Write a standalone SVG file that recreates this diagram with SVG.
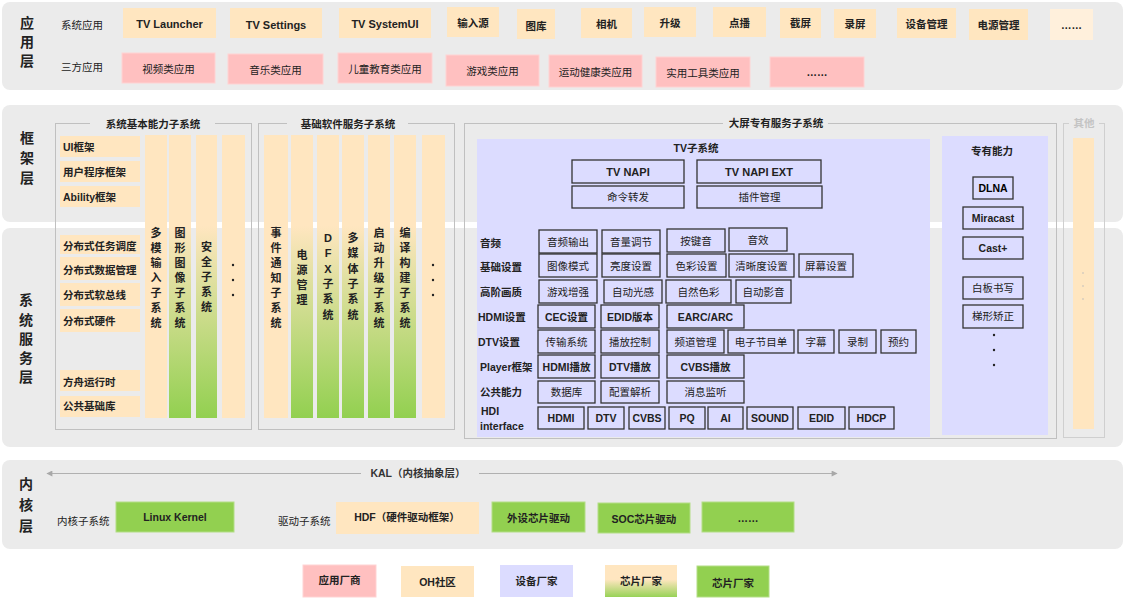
<svg xmlns="http://www.w3.org/2000/svg" width="1125" height="603" viewBox="0 0 1125 603">
<defs>
<linearGradient id="gcol" x1="0" y1="0" x2="0" y2="1">
<stop offset="0" stop-color="#FFE6C0"/><stop offset="0.32" stop-color="#FFE6C0"/><stop offset="1" stop-color="#92D050"/>
</linearGradient>
<linearGradient id="gleg" x1="0" y1="0" x2="0" y2="1">
<stop offset="0" stop-color="#FFE6C0"/><stop offset="0.45" stop-color="#FFE6C0"/><stop offset="1" stop-color="#98D257"/>
</linearGradient>
<marker id="arr" viewBox="0 0 10 10" refX="9" refY="5" markerUnits="userSpaceOnUse" markerWidth="7" markerHeight="6" orient="auto-start-reverse">
<path d="M0,0 L10,5 L0,10 z" fill="#A8A8A8"/>
</marker>
</defs>
<style>
text{font-family:"Liberation Sans","Noto Sans CJK SC",sans-serif;fill:#222;font-size:10.5px;}
.c{text-anchor:middle;dominant-baseline:central;}
.l{dominant-baseline:central;}
.b{font-weight:bold;}
.s11{font-size:11px;}
.s14{font-size:14px;}
.layer{fill:#EBEBEB;}
.pe{fill:#FFE6C0;}
.pe2{fill:#FFF0DC;}
.pk{fill:#FFC0C0;stroke:#FFD3D3;stroke-width:1;}
.gr{fill:#92D050;stroke:#B3DE86;stroke-width:1;}
.gc{fill:url(#gcol);}
.tb{fill:none;stroke:#333;stroke-width:1.3;}
.sb{fill:none;stroke:#C0C0C0;stroke-width:1;}
.lav{fill:#DCDCFF;}
.gap{fill:#EBEBEB;}
.dot{fill:#222;}
.ldot{fill:#BBBBBB;}
.conn{fill:none;stroke:#B0B0B0;stroke-width:1;}
</style>

<!-- Layers -->
<g id="layers">
<rect class="layer" x="2" y="2" width="1121" height="88" rx="8"/>
<rect class="layer" x="2" y="105" width="1121" height="117" rx="8"/>
<rect class="layer" x="2" y="228" width="1121" height="219" rx="8"/>
<rect class="layer" x="2" y="460" width="1121" height="89" rx="8"/>
</g>

<!-- Layer labels -->
<g id="layer-labels">
<text class="c b s14" x="27" y="23">应<tspan x="27" y="42">用</tspan><tspan x="27" y="61">层</tspan></text>
<text class="c b s14" x="27" y="138">框<tspan x="27" y="158">架</tspan><tspan x="27" y="178">层</tspan></text>
<text class="c b s14" x="26" y="300">系<tspan x="26" y="320">统</tspan><tspan x="26" y="339">服</tspan><tspan x="26" y="358">务</tspan><tspan x="26" y="377">层</tspan></text>
<text class="c b s14" x="26" y="484">内<tspan x="26" y="505">核</tspan><tspan x="26" y="526">层</tspan></text>
</g>

<!-- App layer -->
<g id="app-layer">
<text class="l" x="61" y="25">系统应用</text>
<text class="l" x="61" y="67">三方应用</text>
<g id="app-tv-launcher"><rect class="pe" x="123" y="8" width="93" height="30"/><text class="c b s11" x="169.5" y="24">TV Launcher</text></g>
<g id="app-tv-settings"><rect class="pe" x="230" y="8" width="92" height="30"/><text class="c b s11" x="276" y="25">TV Settings</text></g>
<g id="app-tv-systemui"><rect class="pe" x="339" y="8" width="92" height="30"/><text class="c b s11" x="385" y="24">TV SystemUI</text></g>
<g id="app-input"><rect class="pe" x="447" y="7" width="52" height="30"/><text class="c b" x="473" y="23">输入源</text></g>
<g id="app-gallery"><rect class="pe" x="517" y="9" width="38" height="30"/><text class="c b" x="536" y="26">图库</text></g>
<g id="app-camera"><rect class="pe" x="581" y="8" width="51" height="30"/><text class="c b" x="606.5" y="24">相机</text></g>
<g id="app-upgrade"><rect class="pe" x="644" y="7" width="52" height="30"/><text class="c b" x="670" y="23">升级</text></g>
<g id="app-vod"><rect class="pe" x="713" y="7" width="53" height="30"/><text class="c b" x="739.5" y="23">点播</text></g>
<g id="app-screenshot"><rect class="pe" x="780" y="8" width="41" height="30"/><text class="c b" x="800.5" y="23">截屏</text></g>
<g id="app-record"><rect class="pe" x="834" y="9" width="42" height="29"/><text class="c b" x="855" y="24">录屏</text></g>
<g id="app-device"><rect class="pe" x="897" y="8" width="59" height="30"/><text class="c b" x="926.5" y="24">设备管理</text></g>
<g id="app-power"><rect class="pe" x="969" y="9" width="59" height="31"/><text class="c b" x="998.5" y="25">电源管理</text></g>
<g id="app-more1"><rect class="pe2" x="1050" y="9" width="43" height="31"/><text class="c b" x="1071.5" y="25">……</text></g>

<g id="app-video"><rect class="pk" x="122" y="53" width="93" height="30"/><text class="c" x="168.5" y="69">视频类应用</text></g>
<g id="app-music"><rect class="pk" x="228" y="54" width="95" height="30"/><text class="c" x="275.5" y="70">音乐类应用</text></g>
<g id="app-edu"><rect class="pk" x="338" y="53" width="94" height="30"/><text class="c" x="385" y="69">儿童教育类应用</text></g>
<g id="app-game"><rect class="pk" x="446" y="55" width="93" height="31"/><text class="c" x="492.5" y="71">游戏类应用</text></g>
<g id="app-sport"><rect class="pk" x="549" y="55" width="93" height="32"/><text class="c" x="595.5" y="72">运动健康类应用</text></g>
<g id="app-tool"><rect class="pk" x="656" y="57" width="94" height="30"/><text class="c" x="703" y="73">实用工具类应用</text></g>
<g id="app-more2"><rect class="pk" x="770" y="57" width="94" height="30"/><text class="c b" x="817" y="72">……</text></g>
</g>

<!-- Subsystem borders -->
<g id="subsystem-frames">
<rect class="sb" x="55.5" y="123.5" width="196" height="306"/>
<rect class="gap" x="90" y="118" width="125" height="12"/>
<text class="c b" x="153" y="124">系统基本能力子系统</text>
<rect class="sb" x="258.5" y="123.5" width="196" height="306"/>
<rect class="gap" x="287" y="118" width="121" height="12"/>
<text class="c b" x="348" y="124">基础软件服务子系统</text>
<rect class="sb" x="464.5" y="123.5" width="592" height="315"/>
<rect class="gap" x="723" y="118" width="105" height="12"/>
<text class="c b" x="776" y="123">大屏专有服务子系统</text>
<rect class="sb" x="1063.5" y="123.5" width="41" height="314" style="stroke:#CFCFCF"/>
<rect class="gap" x="1069" y="118" width="30" height="12"/>
<text class="c b" x="1084" y="123" style="fill:#C4C4C4">其他</text>
</g>

<!-- 系统基本能力子系统 -->
<g id="sys-basic">
<g id="ui-framework"><rect class="pe" x="60" y="136" width="80" height="21"/><text class="l b" x="63" y="147">UI框架</text></g>
<g id="user-app-framework"><rect class="pe" x="60" y="161" width="80" height="21"/><text class="l b" x="63" y="172">用户程序框架</text></g>
<g id="ability-framework"><rect class="pe" x="60" y="186" width="80" height="21"/><text class="l b" x="63" y="197">Ability框架</text></g>
<g id="dist-sched"><rect class="pe" x="60" y="235" width="80" height="19"/><text class="l b" x="63" y="246">分布式任务调度</text></g>
<g id="dist-data"><rect class="pe" x="60" y="257" width="80" height="23"/><text class="l b" x="63" y="270">分布式数据管理</text></g>
<g id="dist-bus"><rect class="pe" x="60" y="283" width="80" height="23"/><text class="l b" x="63" y="295">分布式软总线</text></g>
<g id="dist-hw"><rect class="pe" x="60" y="309" width="80" height="23"/><text class="l b" x="63" y="321">分布式硬件</text></g>
<g id="ark-runtime"><rect class="pe" x="60" y="370" width="80" height="21"/><text class="l b" x="63" y="382">方舟运行时</text></g>
<g id="common-lib"><rect class="pe" x="60" y="396" width="80" height="21"/><text class="l b" x="63" y="406">公共基础库</text></g>

<g id="multimodal"><rect class="pe" x="145" y="135" width="22" height="283"/>
<text class="c b s11" x="156" y="233">多<tspan x="156" y="248">模</tspan><tspan x="156" y="263">输</tspan><tspan x="156" y="278">入</tspan><tspan x="156" y="293">子</tspan><tspan x="156" y="308">系</tspan><tspan x="156" y="323">统</tspan></text></g>
<g id="graphics"><rect class="gc" x="169" y="135" width="22" height="283"/>
<text class="c b s11" x="180" y="233">图<tspan x="180" y="248">形</tspan><tspan x="180" y="263">图</tspan><tspan x="180" y="278">像</tspan><tspan x="180" y="293">子</tspan><tspan x="180" y="308">系</tspan><tspan x="180" y="323">统</tspan></text></g>
<g id="security"><rect class="gc" x="196" y="135" width="21" height="283"/>
<text class="c b s11" x="206.5" y="247">安<tspan x="206.5" y="262">全</tspan><tspan x="206.5" y="277">子</tspan><tspan x="206.5" y="292">系</tspan><tspan x="206.5" y="307">统</tspan></text></g>
<g id="sys-more"><rect class="pe" x="222" y="135" width="23" height="283"/>
<circle class="dot" cx="233" cy="265" r="1.2"/><circle class="dot" cx="233" cy="280" r="1.2"/><circle class="dot" cx="233" cy="295" r="1.2"/></g>
</g>

<!-- 基础软件服务子系统 -->
<g id="base-software">
<g id="event-notify"><rect class="pe" x="264" y="135" width="24" height="283"/>
<text class="c b s11" x="276" y="233">事<tspan x="276" y="248">件</tspan><tspan x="276" y="263">通</tspan><tspan x="276" y="278">知</tspan><tspan x="276" y="293">子</tspan><tspan x="276" y="308">系</tspan><tspan x="276" y="323">统</tspan></text></g>
<g id="power-mgr"><rect class="gc" x="291" y="135" width="22" height="283"/>
<text class="c b s11" x="302" y="255">电<tspan x="302" y="270">源</tspan><tspan x="302" y="285">管</tspan><tspan x="302" y="300">理</tspan></text></g>
<g id="dfx"><rect class="gc" x="317" y="135" width="22" height="283"/>
<text class="c b s11" x="328" y="238">D<tspan x="328" y="253">F</tspan><tspan x="328" y="269">X</tspan><tspan x="328" y="284">子</tspan><tspan x="328" y="299">系</tspan><tspan x="328" y="315">统</tspan></text></g>
<g id="multimedia"><rect class="gc" x="342" y="135" width="22" height="283"/>
<text class="c b s11" x="353" y="238">多<tspan x="353" y="253">媒</tspan><tspan x="353" y="269">体</tspan><tspan x="353" y="284">子</tspan><tspan x="353" y="299">系</tspan><tspan x="353" y="315">统</tspan></text></g>
<g id="boot-upgrade"><rect class="gc" x="368" y="135" width="22" height="283"/>
<text class="c b s11" x="379" y="233">启<tspan x="379" y="248">动</tspan><tspan x="379" y="263">升</tspan><tspan x="379" y="278">级</tspan><tspan x="379" y="293">子</tspan><tspan x="379" y="308">系</tspan><tspan x="379" y="323">统</tspan></text></g>
<g id="build"><rect class="gc" x="394" y="135" width="22" height="283"/>
<text class="c b s11" x="405" y="233">编<tspan x="405" y="248">译</tspan><tspan x="405" y="263">构</tspan><tspan x="405" y="278">建</tspan><tspan x="405" y="293">子</tspan><tspan x="405" y="308">系</tspan><tspan x="405" y="323">统</tspan></text></g>
<g id="base-more"><rect class="pe" x="422" y="135" width="23" height="283"/>
<circle class="dot" cx="433" cy="265" r="1.2"/><circle class="dot" cx="433" cy="280" r="1.2"/><circle class="dot" cx="433" cy="295" r="1.2"/></g>
</g>

<!-- TV子系统 -->
<g id="tv-subsystem">
<rect class="lav" x="477" y="139" width="453" height="298"/>
<text class="c b" x="696" y="148">TV子系统</text>
<g id="tv-napi"><rect class="tb" x="572" y="160" width="112" height="23"/><text class="c b s11" x="628" y="172">TV NAPI</text></g>
<g id="tv-napi-ext"><rect class="tb" x="697" y="160" width="124" height="23"/><text class="c b s11" x="759" y="172">TV NAPI EXT</text></g>
<g id="cmd-forward"><rect class="tb" x="572" y="186" width="112" height="22"/><text class="c" x="628" y="197">命令转发</text></g>
<g id="plugin-mgr"><rect class="tb" x="697" y="186" width="125" height="22"/><text class="c" x="759.5" y="197">插件管理</text></g>

<text class="l b" x="480" y="243">音频</text>
<g id="audio-out"><rect class="tb" x="539" y="230" width="58" height="23"/><text class="c" x="568" y="242">音频输出</text></g>
<g id="volume"><rect class="tb" x="602" y="230" width="58" height="23"/><text class="c" x="631" y="242">音量调节</text></g>
<g id="keytone"><rect class="tb" x="667" y="229" width="58" height="23"/><text class="c" x="696" y="241">按键音</text></g>
<g id="sound-effect"><rect class="tb" x="729" y="228" width="58" height="23"/><text class="c" x="758" y="240">音效</text></g>

<text class="l b" x="480" y="267">基础设置</text>
<g id="pic-mode"><rect class="tb" x="539" y="254" width="58" height="23"/><text class="c" x="568" y="266">图像模式</text></g>
<g id="brightness"><rect class="tb" x="602" y="254" width="58" height="23"/><text class="c" x="631" y="266">亮度设置</text></g>
<g id="color"><rect class="tb" x="667" y="254" width="59" height="23"/><text class="c" x="696.5" y="266">色彩设置</text></g>
<g id="sharpness"><rect class="tb" x="729" y="254" width="65" height="23"/><text class="c" x="761.5" y="266">清晰度设置</text></g>
<g id="screen-set"><rect class="tb" x="799" y="254" width="54" height="23"/><text class="c" x="826" y="266">屏幕设置</text></g>

<text class="l b" x="480" y="292">高阶画质</text>
<g id="game-enh"><rect class="tb" x="539" y="280" width="58" height="23"/><text class="c" x="568" y="292">游戏增强</text></g>
<g id="auto-light"><rect class="tb" x="604" y="280" width="58" height="23"/><text class="c" x="633" y="292">自动光感</text></g>
<g id="natural-color"><rect class="tb" x="666" y="280" width="65" height="23"/><text class="c" x="698.5" y="292">自然色彩</text></g>
<g id="auto-av"><rect class="tb" x="736" y="280" width="55" height="23"/><text class="c" x="763.5" y="292">自动影音</text></g>

<text class="l b" x="478" y="317">HDMI设置</text>
<g id="cec"><rect class="tb" x="538" y="305" width="57" height="23"/><text class="c b" x="566.5" y="317">CEC设置</text></g>
<g id="edid-ver"><rect class="tb" x="601" y="305" width="58" height="23"/><text class="c b" x="630" y="317">EDID版本</text></g>
<g id="earc"><rect class="tb" x="667" y="305" width="77" height="23"/><text class="c b" x="705.5" y="317">EARC/ARC</text></g>

<text class="l b" x="478" y="342">DTV设置</text>
<g id="transport"><rect class="tb" x="538" y="330" width="57" height="23"/><text class="c" x="566.5" y="342">传输系统</text></g>
<g id="play-ctrl"><rect class="tb" x="601" y="330" width="58" height="23"/><text class="c" x="630" y="342">播放控制</text></g>
<g id="channel"><rect class="tb" x="667" y="330" width="57" height="23"/><text class="c" x="695.5" y="342">频道管理</text></g>
<g id="epg"><rect class="tb" x="728" y="330" width="66" height="23"/><text class="c" x="761" y="342">电子节目单</text></g>
<g id="subtitle"><rect class="tb" x="798" y="330" width="36" height="23"/><text class="c" x="816" y="342">字幕</text></g>
<g id="dtv-record"><rect class="tb" x="839" y="330" width="37" height="23"/><text class="c" x="857.5" y="342">录制</text></g>
<g id="reserve"><rect class="tb" x="881" y="330" width="35" height="23"/><text class="c" x="898.5" y="342">预约</text></g>

<text class="l b" x="480" y="367">Player框架</text>
<g id="hdmi-play"><rect class="tb" x="538" y="355" width="57" height="23"/><text class="c b" x="566.5" y="367">HDMI播放</text></g>
<g id="dtv-play"><rect class="tb" x="601" y="355" width="58" height="23"/><text class="c b" x="630" y="367">DTV播放</text></g>
<g id="cvbs-play"><rect class="tb" x="667" y="355" width="77" height="23"/><text class="c b" x="705.5" y="367">CVBS播放</text></g>

<text class="l b" x="480" y="392">公共能力</text>
<g id="database"><rect class="tb" x="538" y="381" width="57" height="22"/><text class="c" x="566.5" y="392">数据库</text></g>
<g id="config-parse"><rect class="tb" x="601" y="381" width="58" height="22"/><text class="c" x="630" y="392">配置解析</text></g>
<g id="msg-listen"><rect class="tb" x="667" y="381" width="77" height="22"/><text class="c" x="705.5" y="392">消息监听</text></g>

<text class="l b" x="481" y="411">HDI</text>
<text class="l b" x="480" y="426">interface</text>
<g id="hdi-hdmi"><rect class="tb" x="538" y="407" width="46" height="22"/><text class="c b" x="561" y="418">HDMI</text></g>
<g id="hdi-dtv"><rect class="tb" x="588" y="407" width="36" height="22"/><text class="c b" x="606" y="418">DTV</text></g>
<g id="hdi-cvbs"><rect class="tb" x="629" y="407" width="36" height="22"/><text class="c b" x="647" y="418">CVBS</text></g>
<g id="hdi-pq"><rect class="tb" x="669" y="407" width="36" height="22"/><text class="c b" x="687" y="418">PQ</text></g>
<g id="hdi-ai"><rect class="tb" x="708" y="407" width="35" height="22"/><text class="c b" x="725.5" y="418">AI</text></g>
<g id="hdi-sound"><rect class="tb" x="747" y="407" width="46" height="22"/><text class="c b" x="770" y="418">SOUND</text></g>
<g id="hdi-edid"><rect class="tb" x="798" y="407" width="47" height="22"/><text class="c b" x="821.5" y="418">EDID</text></g>
<g id="hdi-hdcp"><rect class="tb" x="849" y="407" width="45" height="22"/><text class="c b" x="871.5" y="418">HDCP</text></g>
</g>

<!-- 专有能力 -->
<g id="special-capability">
<rect class="lav" x="942" y="136" width="106" height="299"/>
<text class="c b" x="992" y="151">专有能力</text>
<g id="dlna"><rect class="tb" x="973" y="177" width="40" height="22"/><text class="c b" x="993" y="188" style="fill:#000">DLNA</text></g>
<g id="miracast"><rect class="tb" x="963" y="207" width="60" height="22"/><text class="c b" x="993" y="218">Miracast</text></g>
<g id="castplus"><rect class="tb" x="963" y="237" width="60" height="22"/><text class="c b" x="993" y="248">Cast+</text></g>
<g id="whiteboard"><rect class="tb" x="963" y="277" width="60" height="22"/><text class="c" x="993" y="288">白板书写</text></g>
<g id="keystone"><rect class="tb" x="963" y="305" width="60" height="23"/><text class="c" x="993" y="316">梯形矫正</text></g>
<circle class="dot" cx="994" cy="335" r="1.2"/><circle class="dot" cx="994" cy="350" r="1.2"/><circle class="dot" cx="994" cy="365" r="1.2"/>
</g>

<!-- 其他 -->
<g id="other">
<rect class="pe" x="1073" y="138" width="21" height="291"/>
<circle class="ldot" cx="1083" cy="273" r="0.8"/><circle class="ldot" cx="1083" cy="286" r="0.8"/><circle class="ldot" cx="1083" cy="299" r="0.8"/>
</g>

<!-- Kernel layer -->
<g id="kernel-layer">
<text class="l" x="57" y="521">内核子系统</text>
<g id="linux-kernel"><rect class="gr" x="116" y="502" width="118" height="30"/><text class="c b" x="175" y="517">Linux Kernel</text></g>
<text class="l" x="278" y="521">驱动子系统</text>
<g id="hdf"><rect class="pe" x="336" y="502" width="143" height="32"/><text class="c b" x="407" y="517">HDF（硬件驱动框架）</text></g>
<g id="peripheral-driver"><rect class="gr" x="492" y="502" width="93" height="30"/><text class="c b" x="538.5" y="518">外设芯片驱动</text></g>
<g id="soc-driver"><rect class="gr" x="598" y="503" width="92" height="30"/><text class="c b" x="644" y="519">SOC芯片驱动</text></g>
<g id="driver-more"><rect class="gr" x="702" y="502" width="92" height="30"/><text class="c b" x="748" y="518">……</text></g>
</g>

<!-- Connectors -->
<g id="connectors">
<path class="conn" d="M361,473.5 L47,473.5" marker-end="url(#arr)"/>
<path class="conn" d="M479,473.5 L837,473.5" marker-end="url(#arr)"/>
<text class="c b" x="418" y="473" style="fill:#333">KAL（内核抽象层）</text>
</g>

<!-- Legend -->
<g id="legend">
<g id="legend-app-vendor"><rect class="pk" x="303" y="565" width="73" height="32"/><text class="c b" x="339.5" y="580">应用厂商</text></g>
<g id="legend-oh"><rect class="pe" x="401" y="566" width="73" height="31"/><text class="c b" x="437.5" y="582">OH社区</text></g>
<g id="legend-device"><rect class="lav" x="500" y="565" width="73" height="32"/><text class="c b" x="536.5" y="581">设备厂家</text></g>
<g id="legend-chip1"><rect x="605" y="565" width="72" height="32" fill="url(#gleg)"/><text class="c b" x="641" y="581">芯片厂家</text></g>
<g id="legend-chip2"><rect class="gr" x="697" y="566" width="72" height="31"/><text class="c b" x="733" y="583">芯片厂家</text></g>
</g>
</svg>
